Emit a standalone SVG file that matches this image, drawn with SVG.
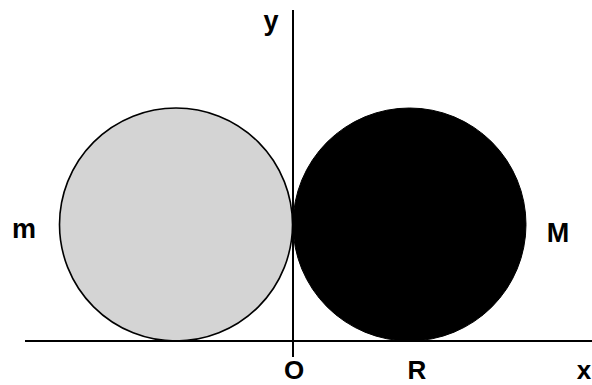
<svg xmlns="http://www.w3.org/2000/svg" width="592" height="385" viewBox="0 0 592 385">
  <style>
    .lbl { font-family: "Liberation Sans", Arial, sans-serif; font-weight: bold; font-size: 27px; fill: #000; }
    .low { font-size: 26px; }
    .axis { stroke: #000; stroke-width: 2; fill: none; }
  </style>
  <rect width="592" height="385" fill="#fff"/>
  <g id="mass-m">
    <circle cx="176" cy="224.5" r="116.5" fill="#d4d4d4" stroke="#000" stroke-width="1.6"/>
  </g>
  <g id="mass-M">
    <circle cx="409.5" cy="224.5" r="116.5" fill="#000" stroke="#000" stroke-width="1"/>
  </g>
  <g id="axes">
    <line class="axis" x1="25" y1="341" x2="592" y2="341"/>
    <line class="axis" x1="293" y1="10" x2="293" y2="357"/>
  </g>
  <g id="labels">
    <text class="lbl" x="271" y="30" text-anchor="middle">y</text>
    <text class="lbl" x="24" y="238" text-anchor="middle">m</text>
    <text class="lbl" x="558" y="242" text-anchor="middle">M</text>
    <text class="lbl low" x="294" y="379" text-anchor="middle">O</text>
    <text class="lbl low" x="417" y="379" text-anchor="middle">R</text>
    <text class="lbl low" x="584" y="379" text-anchor="middle">x</text>
  </g>
</svg>
